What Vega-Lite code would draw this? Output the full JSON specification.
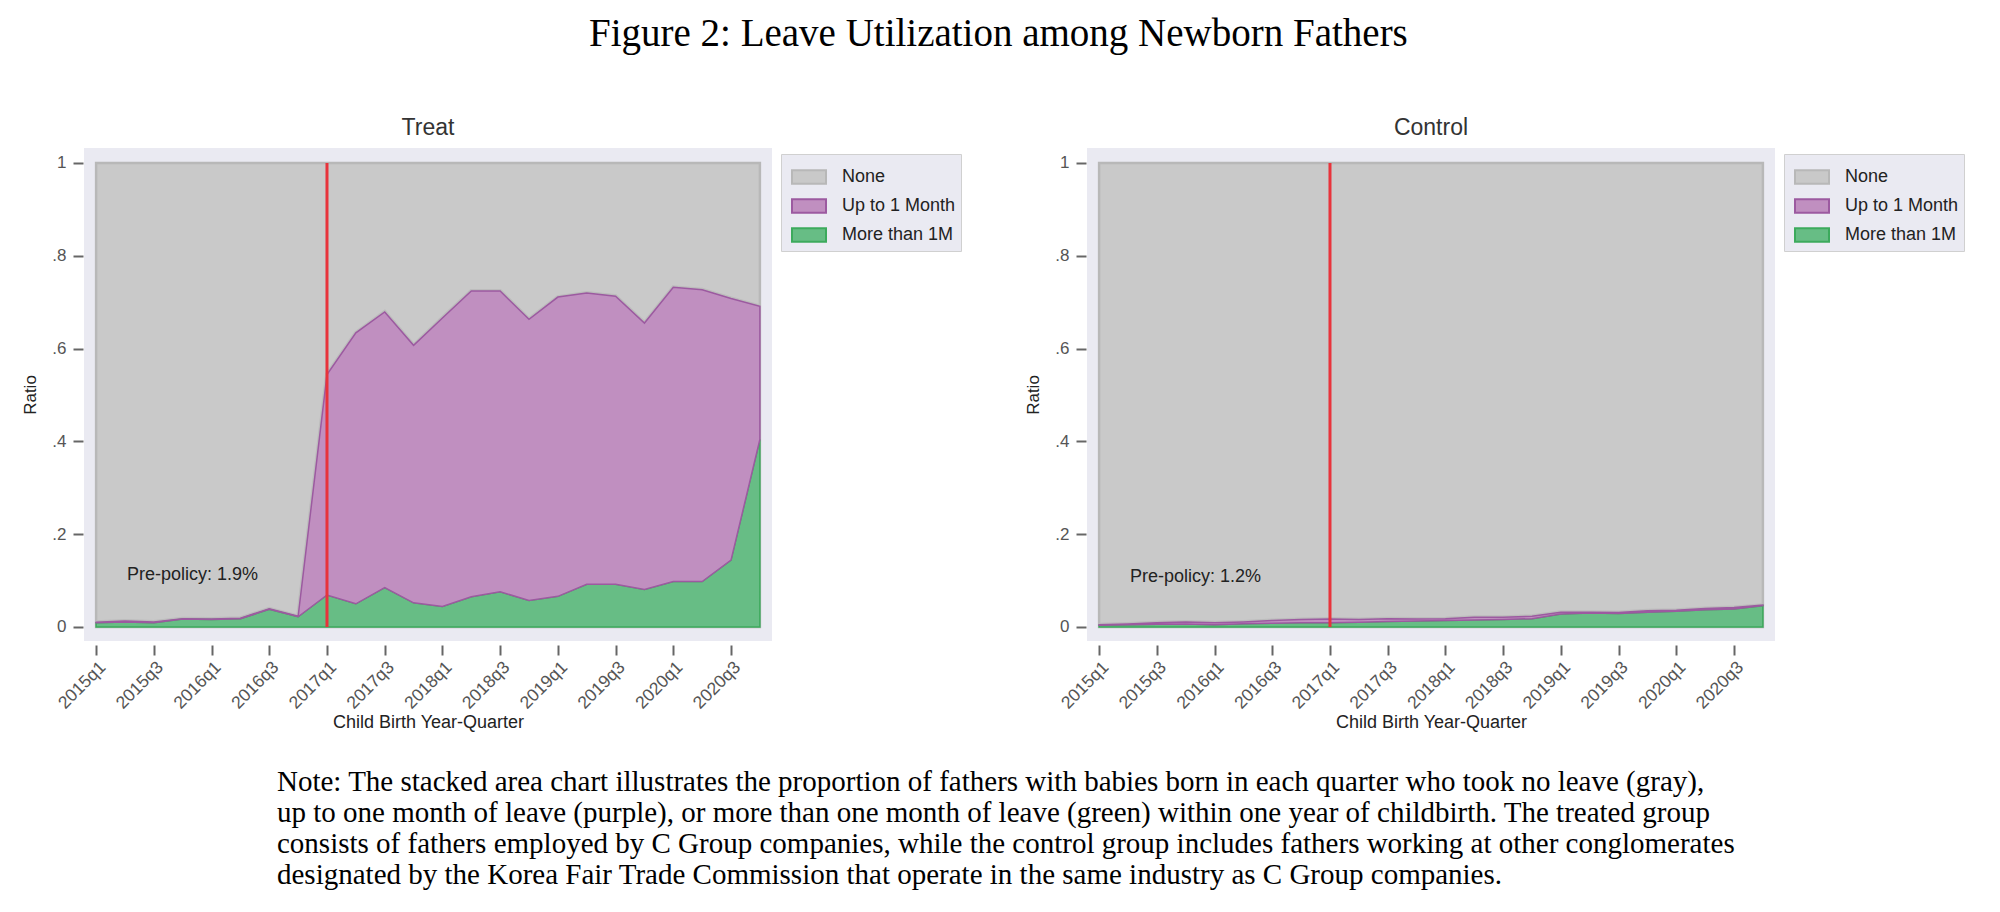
{
  "$schema": "https://vega.github.io/schema/vega-lite/v6.json",
  "background": "white",
  "padding": {"left": 21, "top": 15, "right": 0, "bottom": 0},
  "config": {
    "view": {"stroke": null},
    "font": "Liberation Sans"
  },
  "title": {
    "text": "Figure 2: Leave Utilization among Newborn Fathers",
    "font": "Liberation Serif",
    "fontSize": 39,
    "fontWeight": "normal",
    "color": "#000000",
    "anchor": "start",
    "frame": "group",
    "dx": 505,
    "offset": 63
  },
  "datasets": {
    "leave": [
      {"panel": "Treat", "q": "2015q1", "More than 1M": 0.009, "Up to 1 Month": 0.001},
      {"panel": "Treat", "q": "2015q2", "More than 1M": 0.011, "Up to 1 Month": 0.002},
      {"panel": "Treat", "q": "2015q3", "More than 1M": 0.009, "Up to 1 Month": 0.002},
      {"panel": "Treat", "q": "2015q4", "More than 1M": 0.017, "Up to 1 Month": 0.001},
      {"panel": "Treat", "q": "2016q1", "More than 1M": 0.016, "Up to 1 Month": 0.001},
      {"panel": "Treat", "q": "2016q2", "More than 1M": 0.018, "Up to 1 Month": 0.001},
      {"panel": "Treat", "q": "2016q3", "More than 1M": 0.038, "Up to 1 Month": 0.001},
      {"panel": "Treat", "q": "2016q4", "More than 1M": 0.022, "Up to 1 Month": 0.001},
      {"panel": "Treat", "q": "2017q1", "More than 1M": 0.069, "Up to 1 Month": 0.475},
      {"panel": "Treat", "q": "2017q2", "More than 1M": 0.050, "Up to 1 Month": 0.584},
      {"panel": "Treat", "q": "2017q3", "More than 1M": 0.085, "Up to 1 Month": 0.594},
      {"panel": "Treat", "q": "2017q4", "More than 1M": 0.052, "Up to 1 Month": 0.555},
      {"panel": "Treat", "q": "2018q1", "More than 1M": 0.044, "Up to 1 Month": 0.622},
      {"panel": "Treat", "q": "2018q2", "More than 1M": 0.065, "Up to 1 Month": 0.659},
      {"panel": "Treat", "q": "2018q3", "More than 1M": 0.076, "Up to 1 Month": 0.648},
      {"panel": "Treat", "q": "2018q4", "More than 1M": 0.057, "Up to 1 Month": 0.606},
      {"panel": "Treat", "q": "2019q1", "More than 1M": 0.066, "Up to 1 Month": 0.645},
      {"panel": "Treat", "q": "2019q2", "More than 1M": 0.092, "Up to 1 Month": 0.628},
      {"panel": "Treat", "q": "2019q3", "More than 1M": 0.092, "Up to 1 Month": 0.621},
      {"panel": "Treat", "q": "2019q4", "More than 1M": 0.081, "Up to 1 Month": 0.574},
      {"panel": "Treat", "q": "2020q1", "More than 1M": 0.098, "Up to 1 Month": 0.634},
      {"panel": "Treat", "q": "2020q2", "More than 1M": 0.098, "Up to 1 Month": 0.629},
      {"panel": "Treat", "q": "2020q3", "More than 1M": 0.144, "Up to 1 Month": 0.564},
      {"panel": "Treat", "q": "2020q4", "More than 1M": 0.404, "Up to 1 Month": 0.287},
      {"panel": "Control", "q": "2015q1", "More than 1M": 0.004, "Up to 1 Month": 0.001},
      {"panel": "Control", "q": "2015q2", "More than 1M": 0.005, "Up to 1 Month": 0.0015},
      {"panel": "Control", "q": "2015q3", "More than 1M": 0.006, "Up to 1 Month": 0.003},
      {"panel": "Control", "q": "2015q4", "More than 1M": 0.0065, "Up to 1 Month": 0.0045},
      {"panel": "Control", "q": "2016q1", "More than 1M": 0.005, "Up to 1 Month": 0.004},
      {"panel": "Control", "q": "2016q2", "More than 1M": 0.007, "Up to 1 Month": 0.004},
      {"panel": "Control", "q": "2016q3", "More than 1M": 0.008, "Up to 1 Month": 0.006},
      {"panel": "Control", "q": "2016q4", "More than 1M": 0.009, "Up to 1 Month": 0.007},
      {"panel": "Control", "q": "2017q1", "More than 1M": 0.009, "Up to 1 Month": 0.008},
      {"panel": "Control", "q": "2017q2", "More than 1M": 0.010, "Up to 1 Month": 0.006},
      {"panel": "Control", "q": "2017q3", "More than 1M": 0.012, "Up to 1 Month": 0.006},
      {"panel": "Control", "q": "2017q4", "More than 1M": 0.013, "Up to 1 Month": 0.004},
      {"panel": "Control", "q": "2018q1", "More than 1M": 0.014, "Up to 1 Month": 0.004},
      {"panel": "Control", "q": "2018q2", "More than 1M": 0.015, "Up to 1 Month": 0.006},
      {"panel": "Control", "q": "2018q3", "More than 1M": 0.016, "Up to 1 Month": 0.005},
      {"panel": "Control", "q": "2018q4", "More than 1M": 0.018, "Up to 1 Month": 0.005},
      {"panel": "Control", "q": "2019q1", "More than 1M": 0.028, "Up to 1 Month": 0.004},
      {"panel": "Control", "q": "2019q2", "More than 1M": 0.030, "Up to 1 Month": 0.002},
      {"panel": "Control", "q": "2019q3", "More than 1M": 0.029, "Up to 1 Month": 0.002},
      {"panel": "Control", "q": "2019q4", "More than 1M": 0.032, "Up to 1 Month": 0.003},
      {"panel": "Control", "q": "2020q1", "More than 1M": 0.034, "Up to 1 Month": 0.002},
      {"panel": "Control", "q": "2020q2", "More than 1M": 0.037, "Up to 1 Month": 0.003},
      {"panel": "Control", "q": "2020q3", "More than 1M": 0.039, "Up to 1 Month": 0.003},
      {"panel": "Control", "q": "2020q4", "More than 1M": 0.046, "Up to 1 Month": 0.001}
    ]
  },
  "vconcat": [
    {
      "hconcat": [
        {
          "width": 688,
          "height": 493,
          "view": {"fill": "#eaeaf2", "stroke": null},
          "title": {"text": "Treat", "fontSize": 23, "fontWeight": "normal", "color": "#333333", "offset": 8},
          "layer": [
            {
              "data": {"name": "leave"},
              "transform": [{"filter": "datum.panel === 'Treat'"}],
              "mark": {"type": "area", "strokeWidth": 2.5},
              "encoding": {
                "x": {
                  "field": "q", "type": "ordinal", "title": "Child Birth Year-Quarter",
                  "scale": {"type": "point", "padding": 0.42},
                  "axis": {
                    "values": ["2015q1", "2015q3", "2016q1", "2016q3", "2017q1", "2017q3", "2018q1", "2018q3", "2019q1", "2019q3", "2020q1", "2020q3"],
                    "domain": false, "grid": false, "offset": 4,
                    "tickSize": 10, "tickWidth": 2, "tickColor": "#666666",
                    "labelAngle": -45, "labelFontSize": 17.5, "labelColor": "#555555", "labelPadding": 3,
                    "titleFontSize": 18, "titleFontWeight": "normal", "titleColor": "#222222", "titlePadding": 2
                  }
                },
                "y": {
                  "datum": 1, "type": "quantitative", "title": "Ratio",
                  "scale": {"domain": [-0.0302, 1.0323], "nice": false, "zero": false},
                  "axis": {
                    "values": [0, 0.2, 0.4, 0.6, 0.8, 1],
                    "labelExpr": "datum.value == 0 ? '0' : datum.value == 1 ? '1' : '.' + format(datum.value * 10, 'd')",
                    "domain": false, "grid": false, "offset": 1,
                    "tickSize": 10, "tickWidth": 2, "tickColor": "#666666",
                    "labelFontSize": 17, "labelColor": "#555555", "labelPadding": 7,
                    "titleFontSize": 17, "titleFontWeight": "normal", "titleColor": "#222222", "titlePadding": 12
                  }
                },
                "y2": {"datum": 0},
                "color": {"datum": "None"},
                "stroke": {"datum": "None"}
              }
            },
            {
              "data": {"name": "leave"},
              "transform": [
                {"filter": "datum.panel === 'Treat'"},
                {"fold": ["More than 1M", "Up to 1 Month"], "as": ["cat", "value"]},
                {"stack": "value", "groupby": ["q"], "sort": [{"field": "cat", "order": "ascending"}], "as": ["v0", "v1"]},
                {"filter": "datum.cat === 'Up to 1 Month'"}
              ],
              "mark": {"type": "line", "color": "#bcbcbc", "strokeWidth": 4},
              "encoding": {
                "x": {"field": "q", "type": "ordinal", "title": "Child Birth Year-Quarter"},
                "y": {"field": "v1", "type": "quantitative", "title": "Ratio"}
              }
            },
            {
              "data": {"name": "leave"},
              "transform": [
                {"filter": "datum.panel === 'Treat'"},
                {"fold": ["More than 1M", "Up to 1 Month"], "as": ["cat", "value"]},
                {"stack": "value", "groupby": ["q"], "sort": [{"field": "cat", "order": "ascending"}], "as": ["v0", "v1"]}
              ],
              "mark": {"type": "area", "strokeWidth": 1.5},
              "encoding": {
                "x": {"field": "q", "type": "ordinal", "title": "Child Birth Year-Quarter"},
                "y": {"field": "v1", "type": "quantitative", "title": "Ratio"},
                "y2": {"field": "v0"},
                "color": {
                  "field": "cat", "type": "nominal",
                  "scale": {"domain": ["None", "Up to 1 Month", "More than 1M"], "range": ["#c9c9c9", "#c08fc0", "#67bd85"]},
                  "legend": {
                    "title": null, "orient": "none", "legendX": 697, "legendY": 6,
                    "fillColor": "#eaeaf2", "strokeColor": "#d0d0d0", "padding": 5, "symbolOffset": 5,
                    "rowPadding": -1, "labelOffset": 15, "labelFontSize": 18, "labelColor": "#222222",
                    "symbolType": "M-1,-0.4H1V0.4H-1Z", "symbolSize": 1156, "symbolStrokeWidth": 2, "symbolOpacity": 1,
                    "encode": {"symbols": {"update": {"stroke": {"signal": "datum.value === 'None' ? '#b8b8b8' : datum.value === 'Up to 1 Month' ? '#9c5aa0' : '#3caa5c'"}}}}
                  }
                },
                "stroke": {
                  "field": "cat", "type": "nominal",
                  "scale": {"domain": ["None", "Up to 1 Month", "More than 1M"], "range": ["#b8b8b8", "#9c5aa0", "#3caa5c"]},
                  "legend": null
                }
              }
            },
            {
              "data": {"values": [{}]},
              "mark": {"type": "rule", "color": "#e8333b", "strokeWidth": 3},
              "encoding": {
                "x": {"datum": "2017q1", "type": "ordinal", "title": "Child Birth Year-Quarter"},
                "y": {"datum": 0, "type": "quantitative", "title": "Ratio"},
                "y2": {"datum": 1}
              }
            },
            {
              "data": {"values": [{"label": "Pre-policy: 1.9%"}]},
              "mark": {"type": "text", "align": "left", "baseline": "alphabetic", "fontSize": 18, "color": "#222222", "dx": 2},
              "encoding": {
                "x": {"datum": "2015q2", "type": "ordinal", "title": "Child Birth Year-Quarter"},
                "y": {"datum": 0.101, "type": "quantitative", "title": "Ratio"},
                "text": {"field": "label"}
              }
            }
          ]
        },
        {
          "width": 688,
          "height": 493,
          "view": {"fill": "#eaeaf2", "stroke": null},
          "title": {"text": "Control", "fontSize": 23, "fontWeight": "normal", "color": "#333333", "offset": 8},
          "layer": [
            {
              "data": {"name": "leave"},
              "transform": [{"filter": "datum.panel === 'Control'"}],
              "mark": {"type": "area", "strokeWidth": 2.5},
              "encoding": {
                "x": {
                  "field": "q", "type": "ordinal", "title": "Child Birth Year-Quarter",
                  "scale": {"type": "point", "padding": 0.42},
                  "axis": {
                    "values": ["2015q1", "2015q3", "2016q1", "2016q3", "2017q1", "2017q3", "2018q1", "2018q3", "2019q1", "2019q3", "2020q1", "2020q3"],
                    "domain": false, "grid": false, "offset": 4,
                    "tickSize": 10, "tickWidth": 2, "tickColor": "#666666",
                    "labelAngle": -45, "labelFontSize": 17.5, "labelColor": "#555555", "labelPadding": 3,
                    "titleFontSize": 18, "titleFontWeight": "normal", "titleColor": "#222222", "titlePadding": 2
                  }
                },
                "y": {
                  "datum": 1, "type": "quantitative", "title": "Ratio",
                  "scale": {"domain": [-0.0302, 1.0323], "nice": false, "zero": false},
                  "axis": {
                    "values": [0, 0.2, 0.4, 0.6, 0.8, 1],
                    "labelExpr": "datum.value == 0 ? '0' : datum.value == 1 ? '1' : '.' + format(datum.value * 10, 'd')",
                    "domain": false, "grid": false, "offset": 1,
                    "tickSize": 10, "tickWidth": 2, "tickColor": "#666666",
                    "labelFontSize": 17, "labelColor": "#555555", "labelPadding": 7,
                    "titleFontSize": 17, "titleFontWeight": "normal", "titleColor": "#222222", "titlePadding": 12
                  }
                },
                "y2": {"datum": 0},
                "color": {"datum": "None"},
                "stroke": {"datum": "None"}
              }
            },
            {
              "data": {"name": "leave"},
              "transform": [
                {"filter": "datum.panel === 'Control'"},
                {"fold": ["More than 1M", "Up to 1 Month"], "as": ["cat", "value"]},
                {"stack": "value", "groupby": ["q"], "sort": [{"field": "cat", "order": "ascending"}], "as": ["v0", "v1"]},
                {"filter": "datum.cat === 'Up to 1 Month'"}
              ],
              "mark": {"type": "line", "color": "#bcbcbc", "strokeWidth": 4},
              "encoding": {
                "x": {"field": "q", "type": "ordinal", "title": "Child Birth Year-Quarter"},
                "y": {"field": "v1", "type": "quantitative", "title": "Ratio"}
              }
            },
            {
              "data": {"name": "leave"},
              "transform": [
                {"filter": "datum.panel === 'Control'"},
                {"fold": ["More than 1M", "Up to 1 Month"], "as": ["cat", "value"]},
                {"stack": "value", "groupby": ["q"], "sort": [{"field": "cat", "order": "ascending"}], "as": ["v0", "v1"]}
              ],
              "mark": {"type": "area", "strokeWidth": 1.5},
              "encoding": {
                "x": {"field": "q", "type": "ordinal", "title": "Child Birth Year-Quarter"},
                "y": {"field": "v1", "type": "quantitative", "title": "Ratio"},
                "y2": {"field": "v0"},
                "color": {
                  "field": "cat", "type": "nominal",
                  "scale": {"domain": ["None", "Up to 1 Month", "More than 1M"], "range": ["#c9c9c9", "#c08fc0", "#67bd85"]},
                  "legend": {
                    "title": null, "orient": "none", "legendX": 697, "legendY": 6,
                    "fillColor": "#eaeaf2", "strokeColor": "#d0d0d0", "padding": 5, "symbolOffset": 5,
                    "rowPadding": -1, "labelOffset": 15, "labelFontSize": 18, "labelColor": "#222222",
                    "symbolType": "M-1,-0.4H1V0.4H-1Z", "symbolSize": 1156, "symbolStrokeWidth": 2, "symbolOpacity": 1,
                    "encode": {"symbols": {"update": {"stroke": {"signal": "datum.value === 'None' ? '#b8b8b8' : datum.value === 'Up to 1 Month' ? '#9c5aa0' : '#3caa5c'"}}}}
                  }
                },
                "stroke": {
                  "field": "cat", "type": "nominal",
                  "scale": {"domain": ["None", "Up to 1 Month", "More than 1M"], "range": ["#b8b8b8", "#9c5aa0", "#3caa5c"]},
                  "legend": null
                }
              }
            },
            {
              "data": {"values": [{}]},
              "mark": {"type": "rule", "color": "#e8333b", "strokeWidth": 3},
              "encoding": {
                "x": {"datum": "2017q1", "type": "ordinal", "title": "Child Birth Year-Quarter"},
                "y": {"datum": 0, "type": "quantitative", "title": "Ratio"},
                "y2": {"datum": 1}
              }
            },
            {
              "data": {"values": [{"label": "Pre-policy: 1.2%"}]},
              "mark": {"type": "text", "align": "left", "baseline": "alphabetic", "fontSize": 18, "color": "#222222", "dx": 2},
              "encoding": {
                "x": {"datum": "2015q2", "type": "ordinal", "title": "Child Birth Year-Quarter"},
                "y": {"datum": 0.098, "type": "quantitative", "title": "Ratio"},
                "text": {"field": "label"}
              }
            }
          ]
        }
      ],
      "spacing": 315,
      "bounds": "flush",
      "resolve": {
        "scale": {"color": "independent", "stroke": "independent"},
        "legend": {"color": "independent", "stroke": "independent"}
      }
    },
    {
      "width": 1450,
      "height": 1,
      "view": {"stroke": null},
      "title": {
        "text": [
          "Note: The stacked area chart illustrates the proportion of fathers with babies born in each quarter who took no leave (gray),",
          "up to one month of leave (purple), or more than one month of leave (green) within one year of childbirth. The treated group",
          "consists of fathers employed by C Group companies, while the control group includes fathers working at other conglomerates",
          "designated by the Korea Fair Trade Commission that operate in the same industry as C Group companies."
        ],
        "font": "Liberation Serif",
        "fontSize": 29,
        "fontWeight": "normal",
        "color": "#000000",
        "orient": "bottom",
        "anchor": "start",
        "frame": "group",
        "baseline": "top",
        "offset": 0,
        "dx": 193,
        "lineHeight": 31
      },
      "data": {"values": []},
      "mark": {"type": "point"},
      "encoding": {}
    }
  ],
  "spacing": 35
}
